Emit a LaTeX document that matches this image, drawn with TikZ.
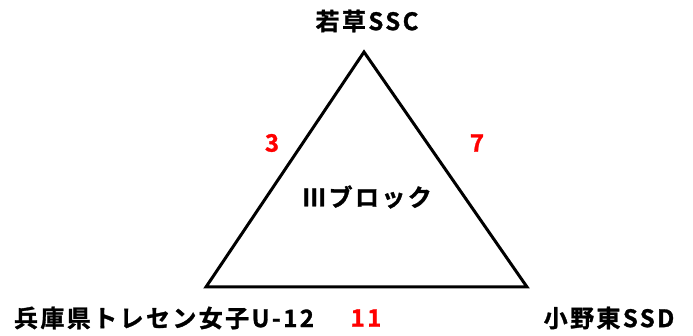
\documentclass[tikz,border=0pt]{standalone}
\usepackage{fontspec}
\newfontfamily\jp{Noto Sans CJK JP}[BoldFont={Noto Sans CJK JP Bold}, BoldFeatures={FakeBold=1.2}, LetterSpace=10]
\tikzset{
  lbl/.style={font=\jp\bfseries\fontsize{24}{24}\selectfont, inner sep=0pt, anchor=center},
  num/.style={lbl, text=red},
  edge/.style={line width=3pt, line join=miter}
}
\begin{document}
\begin{tikzpicture}[x=1pt,y=-1pt]
\useasboundingbox (0,0) rectangle (693,336);
\coordinate (A) at (364,52);
\coordinate (L) at (206,287);
\coordinate (R) at (527,287);
\draw[edge] (A) -- (R) -- (L) -- cycle;
\node[lbl] (top) at (367,21) {若草SSC};
\node[lbl] (bl) at (164,318) {兵庫県トレセン女子U-12};
\node[lbl] (br) at (609,318) {小野東SSD};
\node[lbl] (mid) at (367,197) {Ⅲブロック};
\node[num] (n3) at (272,143) {3};
\node[num] (n7) at (477,143) {7};
\node[num] (n11) at (366,318) {11};
\end{tikzpicture}
\end{document}
